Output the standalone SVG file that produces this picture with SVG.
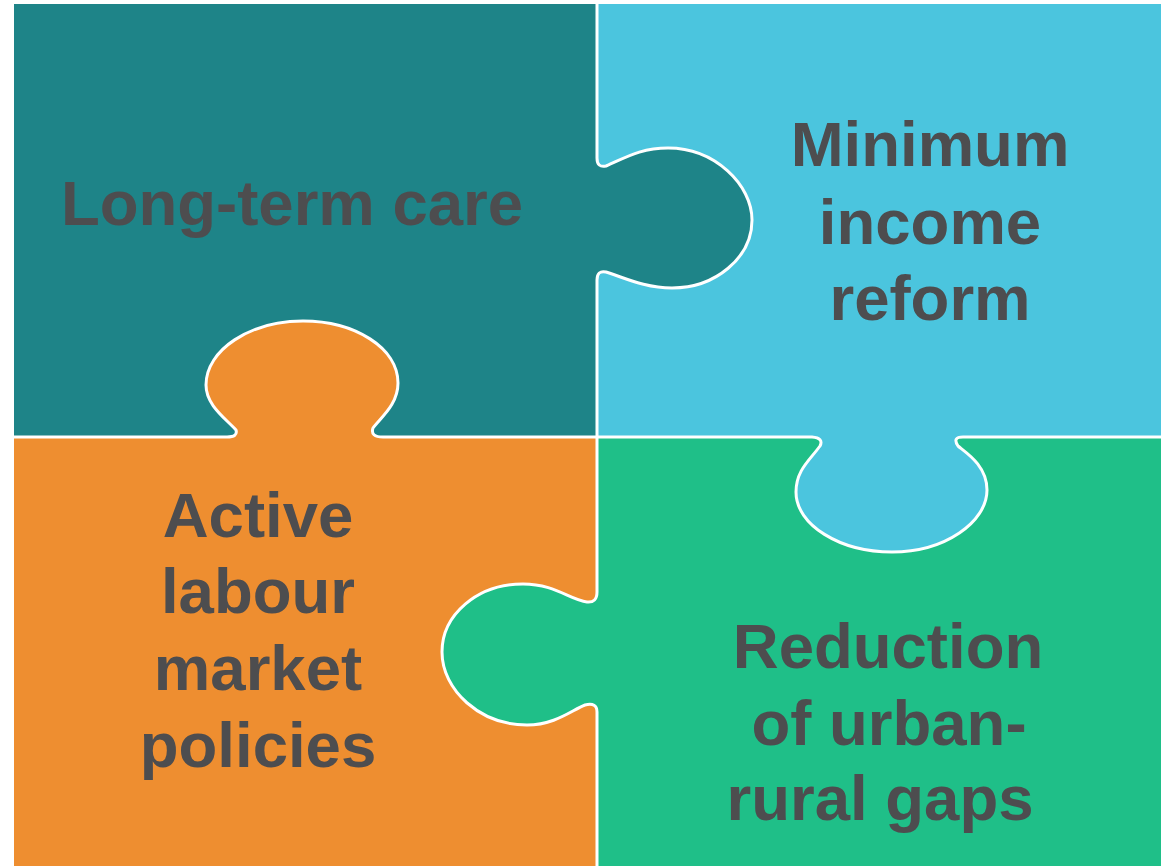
<svg xmlns="http://www.w3.org/2000/svg" width="1161" height="866" viewBox="0 0 1161 866">
<style>
.lbl{font-family:"Liberation Sans",Arial,sans-serif;font-weight:bold;font-size:63.5px;fill:#4D4D4F;text-anchor:middle}
.edge{fill:none;stroke:#FFFFFF;stroke-width:3;stroke-linejoin:round}
</style>
<rect width="1161" height="866" fill="#FFFFFF"/>
<g id="piece-ltc">
<rect x="14" y="4" width="583" height="433" fill="#1E8488"/>
<path d="M597,158 Q597,168 606,166 C625,158 640,148 668,148 C715,148 752,185 752,220 C752,258 715,288 672,288 C645,288 625,278 606,272 Q597,270 597,280 Z" fill="#1E8488"/>
<text class="lbl" x="292" y="225">Long-term care</text>
</g>
<g id="piece-mir">
<rect x="597" y="4" width="564" height="433" fill="#4BC5DE"/>
<path d="M812,437 Q824,438 820,446 C810,460 796,470 796,492 C796,525 840,552 892,552 C945,552 987,522 987,490 C987,465 965,452 958,446 Q952,437 963,437 Z" fill="#4BC5DE"/>
<path d="M597,158 Q597,168 606,166 C625,158 640,148 668,148 C715,148 752,185 752,220 C752,258 715,288 672,288 C645,288 625,278 606,272 Q597,270 597,280 Z" fill="#1E8488"/>
<text class="lbl" x="930" y="166">Minimum</text>
<text class="lbl" x="930" y="244">income</text>
<text class="lbl" x="930" y="320">reform</text>
</g>
<g id="piece-almp">
<rect x="14" y="437" width="583" height="429" fill="#EE8E30"/>
<path d="M227,437 Q238,437 236,430 C225,418 206,405 206,385 C206,350 250,321 303,321 C355,321 398,348 398,383 C398,405 380,418 373,428 Q370,437 383,437 Z" fill="#EE8E30"/>
<text class="lbl" x="258" y="537">Active</text>
<text class="lbl" x="258" y="613">labour</text>
<text class="lbl" x="258" y="690">market</text>
<text class="lbl" x="258" y="767">policies</text>
</g>
<g id="piece-urg">
<rect x="597" y="437" width="564" height="429" fill="#1FBF88"/>
<path d="M812,437 Q824,438 820,446 C810,460 796,470 796,492 C796,525 840,552 892,552 C945,552 987,522 987,490 C987,465 965,452 958,446 Q952,437 963,437 Z" fill="#4BC5DE"/>
<path d="M597,592 Q597,603 587,602 C570,600 555,584 523,584 C477,584 442,615 442,652 C442,690 480,725 527,725 C555,725 572,710 585,705 Q597,702 597,712 Z" fill="#1FBF88"/>
<text class="lbl" x="888" y="668">Reduction</text>
<text class="lbl" x="889" y="745">of urban-</text>
<text class="lbl" x="880" y="820">rural gaps</text>
</g>
<g id="connectors">
<path class="edge" d="M597,4 L597,158 Q597,168 606,166 C625,158 640,148 668,148 C715,148 752,185 752,220 C752,258 715,288 672,288 C645,288 625,278 606,272 Q597,270 597,280 L597,437"/>
<path class="edge" d="M14,437 L227,437 Q238,437 236,430 C225,418 206,405 206,385 C206,350 250,321 303,321 C355,321 398,348 398,383 C398,405 380,418 373,428 Q370,437 383,437 L812,437 Q824,438 820,446 C810,460 796,470 796,492 C796,525 840,552 892,552 C945,552 987,522 987,490 C987,465 965,452 958,446 Q952,437 963,437 L1161,437"/>
<path class="edge" d="M597,437 L597,592 Q597,603 587,602 C570,600 555,584 523,584 C477,584 442,615 442,652 C442,690 480,725 527,725 C555,725 572,710 585,705 Q597,702 597,712 L597,866"/>
</g>
</svg>
